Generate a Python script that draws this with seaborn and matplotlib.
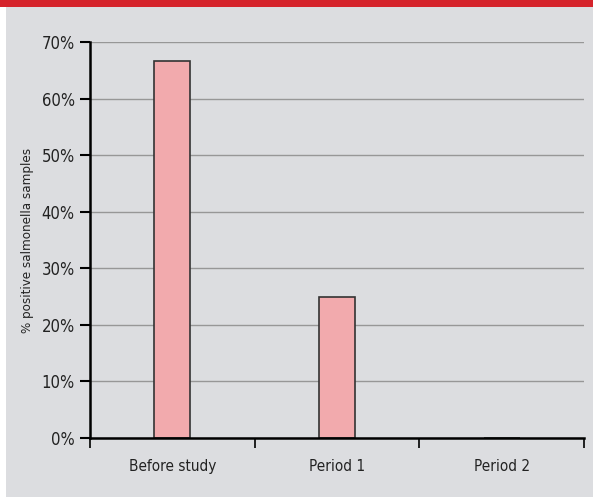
import matplotlib
matplotlib.use("Agg")
import matplotlib.pyplot as plt
from matplotlib.patches import Rectangle
import seaborn as sns
import pandas as pd

# data
periods = ["Before study", "Period 1", "Period 2"]
positive_pct = [66.7, 25.0, 0.0]
y_ticks = [0, 10, 20, 30, 40, 50, 60, 70]

df = pd.DataFrame({"period": periods, "pct": positive_pct})

sns.set_style("white")
plt.rcParams['font.family'] = ['DejaVu Sans']
plt.rcParams['font.stretch'] = 'condensed'

W, H = 593, 497
fig = plt.figure(figsize=(W / 100, H / 100), dpi=100, facecolor="white")

# grey panel + red band on top
fig.patches.append(Rectangle((6 / W, 0), 1 - 6 / W, 1 - 7 / H, transform=fig.transFigure,
                             facecolor="#dcdde0", edgecolor="none", zorder=-10))
fig.patches.append(Rectangle((0, 1 - 7 / H), 1, 7 / H, transform=fig.transFigure,
                             facecolor="#d5232b", edgecolor="none", zorder=-10))

ax = fig.add_axes([90 / W, (H - 438) / H, (584 - 90) / W, (438 - 42) / H])
ax.set_facecolor("none")

sns.barplot(data=df, x="period", y="pct", ax=ax, width=0.22,
            color="#f2aaad", edgecolor="#333333", linewidth=1.2, saturation=1)

ax.set_xlim(-0.5, 2.5)
ax.set_ylim(0, 70)
ax.set_yticks(y_ticks)
ax.set_yticklabels([f"{t}%" for t in y_ticks])
ax.yaxis.grid(True, color="#979797", linewidth=1.0)
ax.set_axisbelow(True)

for s in ["top", "right"]:
    ax.spines[s].set_visible(False)
for s in ["left", "bottom"]:
    ax.spines[s].set_color("black")
    ax.spines[s].set_linewidth(1.8)
    ax.spines[s].set_zorder(5)

ax.tick_params(axis="y", direction="out", length=7, width=1.5, color="black",
               labelsize=12, labelcolor="#222222", pad=4, left=True)
ax.tick_params(axis="x", which="major", length=0, labelsize=11, labelcolor="#222222", pad=15)
ax.set_xticks([-0.5, 0.5, 1.5, 2.5], minor=True)
ax.tick_params(axis="x", which="minor", direction="out", length=7, width=1.2, color="black", bottom=True)

ax.set_xlabel("")
ax.set_ylabel("% positive salmonella samples", fontsize=9.5, color="#222222")
ax.yaxis.set_label_coords(-0.113, 0.5)

fig.savefig("out.png", dpi=100, facecolor="white")
